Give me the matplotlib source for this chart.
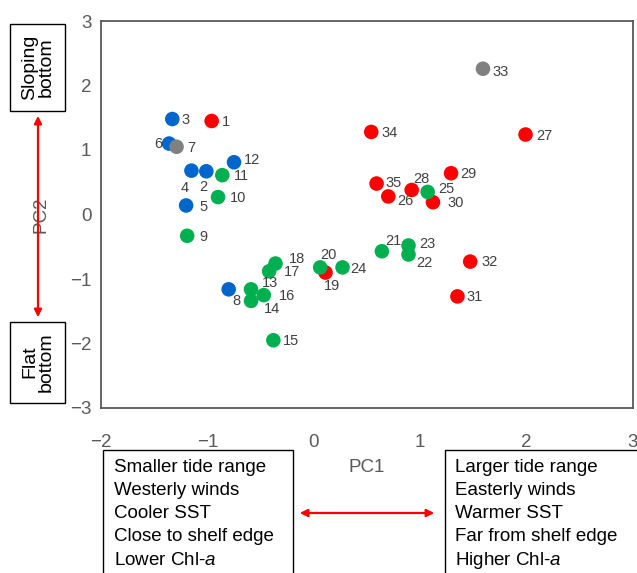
import matplotlib
matplotlib.use('Agg')
import matplotlib.pyplot as plt
from matplotlib.patches import Rectangle, FancyArrowPatch

plt.rcParams['font.family'] = ['Liberation Sans', 'DejaVu Sans']
plt.rcParams['mathtext.fontset'] = 'custom'
plt.rcParams['mathtext.rm'] = 'Liberation Sans'
plt.rcParams['mathtext.it'] = 'Liberation Sans:italic'

# --- datos (PC1, PC2 por sitio) ---
sitios = [1, 2, 3, 4, 5, 6, 7, 8, 9, 10, 11, 12, 13, 14, 15, 16, 17, 18,
          19, 20, 21, 22, 23, 24, 25, 26, 27, 28, 29, 30, 31, 32, 33, 34, 35]
pc1 = [-0.96, -1.01, -1.33, -1.15, -1.20, -1.36, -1.29, -0.80, -1.19, -0.90,
       -0.86, -0.75, -0.59, -0.59, -0.38, -0.47, -0.42, -0.36, 0.11, 0.06,
       0.64, 0.89, 0.89, 0.27, 1.07, 0.70, 1.99, 0.92, 1.29, 1.12,
       1.35, 1.47, 1.59, 0.54, 0.59]
pc2 = [1.45, 0.67, 1.48, 0.68, 0.14, 1.10, 1.05, -1.16, -0.33, 0.27,
       0.61, 0.81, -1.16, -1.34, -1.95, -1.25, -0.88, -0.76, -0.90, -0.82,
       -0.57, -0.62, -0.48, -0.82, 0.35, 0.28, 1.24, 0.38, 0.64, 0.19,
       -1.27, -0.73, 2.26, 1.28, 0.48]
grupo = ['r', 'b', 'b', 'b', 'b', 'b', 'k', 'b', 'g', 'g',
         'g', 'b', 'g', 'g', 'g', 'g', 'g', 'g', 'r', 'g',
         'g', 'g', 'g', 'g', 'g', 'r', 'r', 'r', 'r', 'r',
         'r', 'r', 'k', 'r', 'r']

izq_lineas = ['Smaller tide range', 'Westerly winds', 'Cooler SST',
              'Close to shelf edge', 'Lower Chl-$a$']
der_lineas = ['Larger tide range', 'Easterly winds', 'Warmer SST',
              'Far from shelf edge', 'Higher Chl-$a$']

colores = {'r': '#ff0000', 'b': '#0066cc', 'g': '#00b050', 'k': '#808080'}
orden = ['r', 'b', 'g', 'k']

# desplazamiento de etiquetas en pixeles (dx, dy hacia abajo)
desp = {1: (14, 1), 2: (-3, 16), 3: (13, 1), 4: (-7, 17), 5: (17, 2),
        6: (-11, 0), 7: (15, 1), 8: (8, 12), 9: (16, 1), 10: (20, 1),
        11: (19, 1), 12: (18, -2), 13: (19, -6), 14: (21, 8), 15: (18, 1),
        16: (23, 1), 17: (23, 1), 18: (22, -5), 19: (6, 13), 20: (8, -12),
        21: (11, -10), 22: (16, 9), 23: (19, -1), 24: (16, 2), 25: (19, -3),
        26: (17, 5), 27: (19, 1), 28: (10, -11), 29: (17, 1), 30: (23, 1),
        31: (17, 1), 32: (19, 0), 33: (18, 3), 34: (18, 1), 35: (17, -1)}

W, H = 637, 573
fig = plt.figure(figsize=(W / 100, H / 100), dpi=100)
ax = fig.add_axes([101 / W, 1 - 408 / H, 532 / W, 387 / H])

for g in orden:
    xs = [pc1[i] for i in range(len(sitios)) if grupo[i] == g]
    ys = [pc2[i] for i in range(len(sitios)) if grupo[i] == g]
    ax.scatter(xs, ys, s=110, color=colores[g], edgecolors='none', zorder=3)

for i, s in enumerate(sitios):
    dx, dy = desp[s]
    ax.annotate(str(s), (pc1[i], pc2[i]), xytext=(dx, -dy), textcoords='offset pixels',
                ha='center', va='center', fontsize=10.5, color='#404040')

ax.set_xlim(-2, 3)
ax.set_ylim(-3, 3)
ax.set_xticks(range(-2, 4))
ax.set_yticks(range(-3, 4))
ax.tick_params(length=0, labelsize=13.5, labelcolor='#595959')
ax.tick_params(axis='x', pad=19)
ax.tick_params(axis='y', pad=7)
for sp in ax.spines.values():
    sp.set_color('#595959')
    sp.set_linewidth(1.3)
ax.set_xlabel('PC1', fontsize=13.5, color='#595959')
ax.set_ylabel('PC2', fontsize=13.5, color='#595959')
ax.xaxis.set_label_coords(0.5, -0.132)
ax.yaxis.set_label_coords(-0.096, 0.5)

# --- cajas y flechas ---
def px(x, y):
    return x / W, 1 - y / H

def caja(x0, y0, x1, y1):
    fig.patches.append(Rectangle(px(x0, y1), (x1 - x0) / W, (y1 - y0) / H,
                                 transform=fig.transFigure, fill=False,
                                 edgecolor='black', linewidth=1.0))

caja(10, 24, 65, 111)
caja(10, 322, 65, 403)
fig.text(*px(38, 67), 'Sloping\nbottom', rotation=90, ha='center', va='center',
         fontsize=14, linespacing=1.0)
fig.text(*px(38, 362), 'Flat\nbottom', rotation=90, ha='center', va='center',
         fontsize=14, linespacing=1.0)
fig.patches.append(FancyArrowPatch(px(38, 113), px(38, 320), transform=fig.transFigure,
                                   arrowstyle='<|-|>', mutation_scale=11,
                                   color='#ff0000', linewidth=1.6))

caja(103, 450, 293, 600)
caja(445, 450, 660, 600)
for k, (a, b) in enumerate(zip(izq_lineas, der_lineas)):
    y = 467 + k * 23.3
    fig.text(*px(114, y), a, ha='left', va='center', fontsize=13.5)
    fig.text(*px(455, y), b, ha='left', va='center', fontsize=13.5)
fig.patches.append(FancyArrowPatch(px(297, 513), px(437, 513), transform=fig.transFigure,
                                   arrowstyle='<|-|>', mutation_scale=11,
                                   color='#ff0000', linewidth=1.6))

fig.savefig('out.png', dpi=100)
